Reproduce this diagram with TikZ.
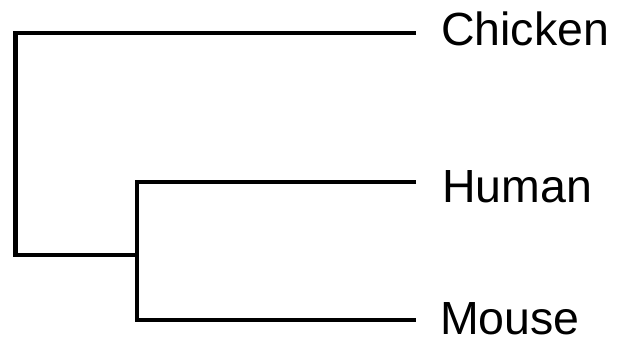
\documentclass[tikz,border=0pt]{standalone}
\usepackage{fontspec}
\setmainfont{Liberation Sans}
\usetikzlibrary{positioning}

\begin{document}
\begin{tikzpicture}[
        x=1pt, y=-1pt,
        branch/.style={line width=4.2pt, line join=miter},
        taxon/.style={inner sep=0pt, anchor=base west, font=\fontsize{46.5}{50}\selectfont}
    ]
    \useasboundingbox (0,0) rectangle (617,341);
    % Internal nodes
    \coordinate (root) at (15.5,255);
    \coordinate (inner) at (137,255);
    % Leaf tips
    \coordinate (tipC) at (416,33.3);
    \coordinate (tipH) at (416,181.7);
    \coordinate (tipM) at (416,320);

    % Labels
    \node[taxon] (chicken) at (441,45) {Chicken};
    \node[taxon] (human) at (442,202) {Human};
    \node[taxon] (mouse) at (440,334.5) {Mouse};

    % Branches
    \draw[branch] (tipC) -| (root) -- (inner);
    \draw[branch] (tipH) -| (inner) |- (tipM);
\end{tikzpicture}
\end{document}
